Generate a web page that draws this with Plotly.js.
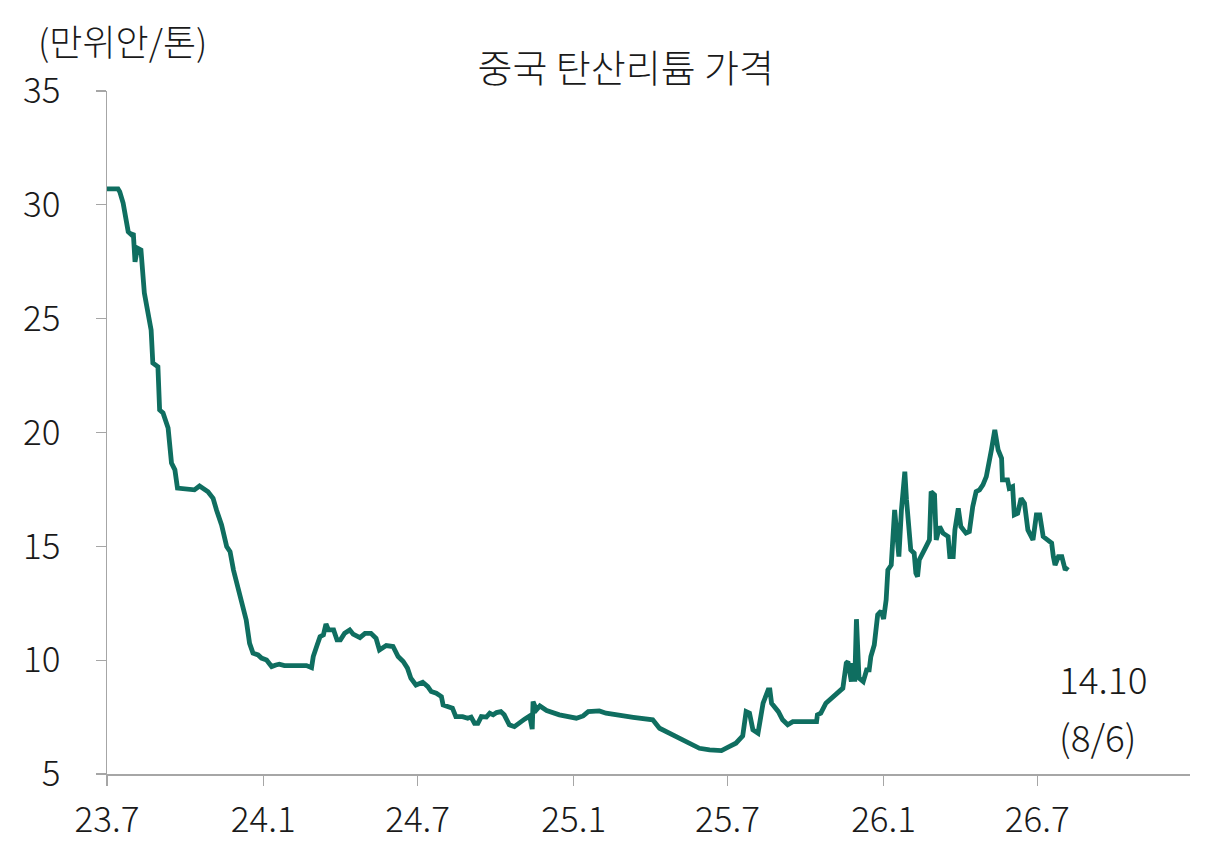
<!DOCTYPE html>
<html>
<head>
<meta charset="utf-8">
<script src="https://cdn.plot.ly/plotly-3.0.1.min.js"></script>
<style>
  html, body { margin: 0; padding: 0; background: #fff; }
  #chart { width: 1208px; height: 862px; }
</style>
</head>
<body>
<div id="chart"></div>
<script>
// 중국 탄산리튬 가격 (만위안/톤)
var dates = [
    '2023-07-01', '2023-07-14', '2023-07-16', '2023-07-20', '2023-07-26', '2023-07-30', '2023-08-01', '2023-08-03',
    '2023-08-06', '2023-08-10', '2023-08-14', '2023-08-22', '2023-08-24', '2023-08-30', '2023-09-01', '2023-09-05',
    '2023-09-11', '2023-09-15', '2023-09-19', '2023-09-22', '2023-10-12', '2023-10-18', '2023-10-28', '2023-11-03',
    '2023-11-07', '2023-11-13', '2023-11-19', '2023-11-23', '2023-11-27', '2023-12-02', '2023-12-04', '2023-12-08',
    '2023-12-12', '2023-12-16', '2023-12-20', '2023-12-26', '2023-12-30', '2024-01-05', '2024-01-11', '2024-01-16',
    '2024-01-20', '2024-01-26', '2024-02-21', '2024-02-27', '2024-02-29', '2024-03-04', '2024-03-08', '2024-03-12',
    '2024-03-15', '2024-03-18', '2024-03-24', '2024-03-28', '2024-04-01', '2024-04-06', '2024-04-12', '2024-04-16',
    '2024-04-24', '2024-04-30', '2024-05-07', '2024-05-13', '2024-05-17', '2024-05-25', '2024-06-02', '2024-06-08',
    '2024-06-14', '2024-06-19', '2024-06-23', '2024-06-29', '2024-07-07', '2024-07-13', '2024-07-17', '2024-07-23',
    '2024-07-29', '2024-07-31', '2024-08-08', '2024-08-11', '2024-08-15', '2024-08-23', '2024-08-29', '2024-09-02',
    '2024-09-06', '2024-09-10', '2024-09-14', '2024-09-20', '2024-09-24', '2024-09-28', '2024-10-02', '2024-10-07',
    '2024-10-11', '2024-10-17', '2024-10-23', '2024-10-29', '2024-11-04', '2024-11-10', '2024-11-13', '2024-11-14',
    '2024-11-18', '2024-11-22', '2024-11-30', '2024-12-15', '2024-12-23', '2025-01-04', '2025-01-12', '2025-01-18',
    '2025-01-31', '2025-02-08', '2025-03-12', '2025-04-04', '2025-04-12', '2025-05-09', '2025-05-29', '2025-06-10',
    '2025-06-24', '2025-07-03', '2025-07-11', '2025-07-19', '2025-07-23', '2025-07-27', '2025-07-31', '2025-08-06',
    '2025-08-12', '2025-08-18', '2025-08-20', '2025-08-22', '2025-08-30', '2025-09-04', '2025-09-10', '2025-09-16',
    '2025-10-14', '2025-10-15', '2025-10-19', '2025-10-25', '2025-11-02', '2025-11-10', '2025-11-14', '2025-11-18',
    '2025-11-20', '2025-11-24', '2025-11-26', '2025-11-28', '2025-11-30', '2025-12-03', '2025-12-08', '2025-12-12',
    '2025-12-15', '2025-12-17', '2025-12-21', '2025-12-25', '2025-12-29', '2026-01-01', '2026-01-04', '2026-01-06',
    '2026-01-10', '2026-01-14', '2026-01-17', '2026-01-19', '2026-01-22', '2026-01-26', '2026-01-28', '2026-01-31',
    '2026-02-02', '2026-02-06', '2026-02-08', '2026-02-10', '2026-02-12', '2026-02-20', '2026-02-24', '2026-02-26',
    '2026-03-02', '2026-03-04', '2026-03-08', '2026-03-12', '2026-03-18', '2026-03-20', '2026-03-24', '2026-03-26',
    '2026-03-30', '2026-04-02', '2026-04-08', '2026-04-12', '2026-04-16', '2026-04-20', '2026-04-24', '2026-04-28',
    '2026-05-02', '2026-05-08', '2026-05-12', '2026-05-16', '2026-05-20', '2026-05-21', '2026-05-27', '2026-05-29',
    '2026-06-02', '2026-06-04', '2026-06-08', '2026-06-12', '2026-06-16', '2026-06-20', '2026-06-26', '2026-06-30',
    '2026-07-04', '2026-07-08', '2026-07-14', '2026-07-18', '2026-07-20', '2026-07-22', '2026-07-26', '2026-07-30',
    '2026-08-03', '2026-08-06'
];

var prices = [
    30.70, 30.70, 30.58, 30.08, 28.82, 28.68, 28.76, 27.50,
    28.10, 28.02, 26.13, 24.50, 23.05, 22.89, 20.99, 20.86,
    20.20, 18.66, 18.36, 17.56, 17.48, 17.65, 17.40, 17.11,
    16.60, 15.94, 14.99, 14.77, 13.96, 13.23, 12.87, 12.21,
    11.77, 10.74, 10.31, 10.23, 10.09, 10.01, 9.72, 9.79,
    9.82, 9.76, 9.76, 9.67, 10.16, 10.60, 11.03, 11.11,
    11.59, 11.33, 11.33, 10.89, 10.89, 11.18, 11.33, 11.14,
    10.99, 11.18, 11.18, 10.96, 10.45, 10.64, 10.60, 10.16,
    9.94, 9.65, 9.21, 8.91, 9.03, 8.84, 8.62, 8.55,
    8.40, 8.03, 7.96, 7.89, 7.52, 7.52, 7.45, 7.50,
    7.23, 7.23, 7.52, 7.50, 7.67, 7.60, 7.70, 7.74,
    7.60, 7.16, 7.08, 7.26, 7.41, 7.55, 6.97, 8.18,
    7.82, 7.99, 7.79, 7.60, 7.52, 7.45, 7.55, 7.74,
    7.77, 7.67, 7.49, 7.38, 7.01, 6.50, 6.13, 6.06,
    6.03, 6.20, 6.35, 6.67, 7.74, 7.67, 6.94, 6.79,
    8.11, 8.69, 8.69, 8.11, 7.74, 7.38, 7.16, 7.30,
    7.30, 7.60, 7.67, 8.11, 8.40, 8.62, 8.77, 9.87,
    9.94, 9.06, 9.87, 9.06, 11.80, 9.21, 9.06, 9.57,
    9.57, 10.16, 10.67, 11.99, 12.16, 11.81, 12.65, 13.96,
    14.18, 16.60, 14.99, 14.55, 16.60, 18.28, 17.04, 15.87,
    14.84, 14.70, 13.82, 13.67, 14.40, 14.99, 15.28, 17.40,
    17.26, 15.28, 15.87, 15.58, 15.43, 14.55, 14.55, 15.72,
    16.67, 15.87, 15.58, 15.65, 16.74, 17.40, 17.48, 17.70,
    18.06, 19.23, 20.11, 19.23, 18.87, 17.92, 17.92, 17.55,
    17.62, 16.38, 16.45, 17.11, 16.89, 15.72, 15.28, 16.38,
    16.38, 15.43, 15.28, 15.14, 14.55, 14.18, 14.55, 14.55,
    13.96, 14.10
];

var tickDates = ['2023-07-01', '2024-01-01', '2024-07-01', '2025-01-01', '2025-07-01', '2026-01-01', '2026-07-01'];
var tickLabels = ['23.7', '24.1', '24.7', '25.1', '25.7', '26.1', '26.7'];
var yTicks = [5, 10, 15, 20, 25, 30, 35];

var lastValue = '14.10';
var lastDate = '(8/6)';

var FONT = '"Noto Sans CJK KR", "Noto Sans", sans-serif';
var AXIS_GRAY = '#a6a6a6';

var trace = {
    x: dates,
    y: prices,
    type: 'scatter',
    mode: 'lines',
    line: { color: '#0f6e60', width: 4.8 },
    hoverinfo: 'skip',
    showlegend: false
};

var layout = {
    width: 1208,
    height: 862,
    margin: { l: 107, r: 18, t: 91, b: 88 },
    paper_bgcolor: '#ffffff',
    plot_bgcolor: '#ffffff',
    font: { family: FONT, size: 35, color: '#1a1a1a', weight: 300 },
    title: {
        text: '중국 탄산리튬 가격',
        font: { family: FONT, size: 38, color: '#1a1a1a', weight: 300 },
        x: 0.518,
        xanchor: 'center',
        y: 0.92,
        yanchor: 'middle',
        yref: 'container'
    },
    xaxis: {
        type: 'date',
        range: ['2023-07-01', '2026-12-28'],
        tickmode: 'array',
        tickvals: tickDates,
        ticktext: tickLabels,
        showgrid: false,
        zeroline: false,
        showline: true,
        linecolor: AXIS_GRAY,
        linewidth: 1.5,
        ticks: 'outside',
        ticklen: 10,
        tickwidth: 1.2,
        tickcolor: AXIS_GRAY,
        ticklabelstandoff: 4,
        tickfont: { family: FONT, size: 35, color: '#1a1a1a', weight: 300 },
        fixedrange: true
    },
    yaxis: {
        range: [5, 35],
        tickmode: 'array',
        tickvals: yTicks,
        showgrid: false,
        zeroline: false,
        showline: true,
        linecolor: AXIS_GRAY,
        linewidth: 1.5,
        ticks: 'outside',
        ticklen: 10,
        tickwidth: 1.2,
        tickcolor: AXIS_GRAY,
        ticklabelstandoff: 28,
        tickfont: { family: FONT, size: 35, color: '#1a1a1a', weight: 300 },
        fixedrange: true
    },
    annotations: [
        {
            text: '(만위안/톤)',
            xref: 'paper', yref: 'paper',
            x: -0.066, y: 1.074,
            xanchor: 'left', yanchor: 'middle',
            showarrow: false,
            font: { family: FONT, size: 36, color: '#1a1a1a', weight: 300 }
        },
        {
            text: lastValue,
            xref: 'x', yref: 'y',
            x: '2026-07-24', y: 9.2,
            xanchor: 'left', yanchor: 'middle',
            showarrow: false,
            font: { family: FONT, size: 37, color: '#1a1a1a', weight: 300 }
        },
        {
            text: lastDate,
            xref: 'x', yref: 'y',
            x: '2026-07-24', y: 6.65,
            xanchor: 'left', yanchor: 'middle',
            showarrow: false,
            font: { family: FONT, size: 37, color: '#1a1a1a', weight: 300 }
        }
    ]
};

Plotly.newPlot('chart', [trace], layout, { displayModeBar: false, staticPlot: true });
</script>
</body>
</html>
